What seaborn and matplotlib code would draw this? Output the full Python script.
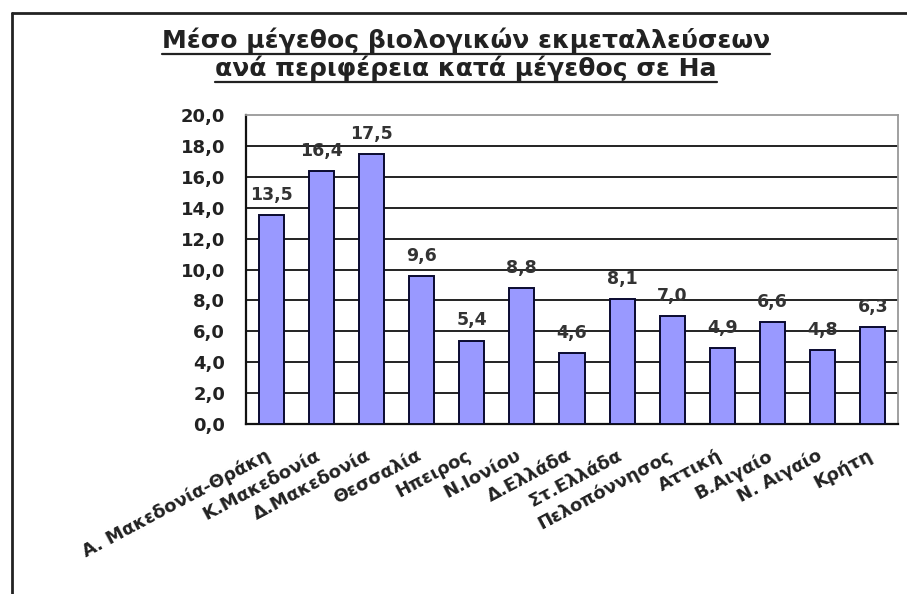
import matplotlib
matplotlib.use("Agg")
import matplotlib.pyplot as plt
import seaborn as sns
import pandas as pd
import numpy as np
from matplotlib.ticker import FuncFormatter, FixedLocator
from matplotlib.lines import Line2D
from matplotlib.transforms import ScaledTranslation

regions = ["Α. Μακεδονία-Θράκη", "Κ.Μακεδονία", "Δ.Μακεδονία", "Θεσσαλία", "Ηπειρος",
           "Ν.Ιονίου", "Δ.Ελλάδα", "Στ.Ελλάδα", "Πελοπόννησος", "Αττική", "Β.Αιγαίο",
           "Ν. Αιγαίο", "Κρήτη"]
values = [13.5, 16.4, 17.5, 9.6, 5.4, 8.8, 4.6, 8.1, 7.0, 4.9, 6.6, 4.8, 6.3]
y_ticks = [0, 2, 4, 6, 8, 10, 12, 14, 16, 18, 20]
title_lines = ["Μέσο μέγεθος βιολογικών εκμεταλλεύσεων",
               "ανά περιφέρεια κατά μέγεθος σε Ha"]

sns.set_style("white")
plt.rcParams['font.family'] = ['DejaVu Sans']

df = pd.DataFrame({"region": regions, "value": values})

fig = plt.figure(figsize=(9.07, 5.94), dpi=100)
ax = fig.add_axes([246/907, 1-424/594, (898-246)/907, (424-115)/594])

sns.barplot(data=df, x="region", y="value", ax=ax, color="#9999ff", width=0.5,
            saturation=1, edgecolor="#0a0a30", linewidth=1.4, zorder=3)

ax.set_ylim(0, 20)
ax.set_xlim(-0.5, len(regions) - 0.5)
ax.set_xlabel("")
ax.set_ylabel("")

# gridlines
for t in y_ticks[1:-1]:
    ax.axhline(t, color="#111111", lw=1.3, zorder=1)

ax.yaxis.set_major_locator(FixedLocator(y_ticks))
ax.yaxis.set_major_formatter(FuncFormatter(lambda v, p: f"{v:.1f}".replace(".", ",")))
ax.tick_params(axis="y", direction="out", length=5, width=1.3, color="#111111",
               pad=10, labelsize=13, labelcolor="#222222")
for lab in ax.get_yticklabels():
    lab.set_fontweight("bold")

# x ticks: marks at boundaries, labels at centres
centers = np.arange(len(regions))
ax.set_xticks(centers)
ax.set_xticklabels(regions, rotation=28, ha="right", rotation_mode="anchor",
                   fontsize=13, fontweight="bold", color="#222222")
ax.tick_params(axis="x", which="major", length=0, pad=16)
shift = ScaledTranslation(-6/100, 0, fig.dpi_scale_trans)
for lab in ax.get_xticklabels():
    lab.set_transform(lab.get_transform() + shift)
ax.set_xticks(np.arange(len(regions) + 1) - 0.5, minor=True)
ax.tick_params(axis="x", which="minor", direction="out", length=4, width=1.3, color="#111111")

for side in ["left", "bottom"]:
    ax.spines[side].set_visible(True)
    ax.spines[side].set_color("#111111")
    ax.spines[side].set_linewidth(1.6)
for side in ["top", "right"]:
    ax.spines[side].set_visible(True)
    ax.spines[side].set_color("#999999")
    ax.spines[side].set_linewidth(1.3)

# value labels
for i, v in enumerate(values):
    ax.annotate(f"{v:.1f}".replace(".", ","), (i, v), xytext=(0, 8),
                textcoords="offset points", ha="center", va="bottom",
                fontsize=12.5, fontweight="bold", color="#333333", zorder=5)

# title with underline
t1 = fig.text(466/907, 1-40/594, title_lines[0], ha="center", va="center",
              fontsize=18, fontweight="bold", color="#222222")
t2 = fig.text(466/907, 1-68/594, title_lines[1], ha="center", va="center",
              fontsize=18, fontweight="bold", color="#222222")
fig.canvas.draw()
r = fig.canvas.get_renderer()
for t in (t1, t2):
    bb = t.get_window_extent(r)
    y = (bb.y0 - 1) / fig.bbox.height
    fig.add_artist(Line2D([bb.x0 / fig.bbox.width, bb.x1 / fig.bbox.width], [y, y],
                          color="#222222", lw=1.6, transform=fig.transFigure))

# frame lines (top and left)
fig.add_artist(Line2D([12/907, 1], [1-13/594, 1-13/594], color="#222222", lw=2,
                      transform=fig.transFigure))
fig.add_artist(Line2D([12/907, 12/907], [0, 1-13/594], color="#222222", lw=2,
                      transform=fig.transFigure))

fig.savefig("out.png", dpi=100)
